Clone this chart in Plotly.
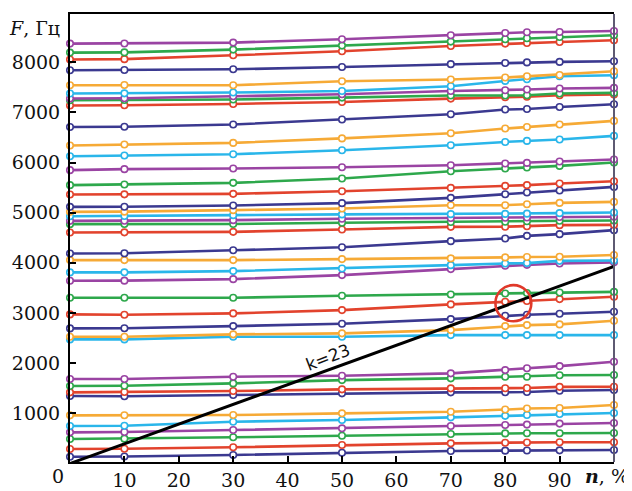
import plotly.graph_objects as go

# x positions (n, %)
n_values = [0, 10, 30, 50, 70, 80, 84, 90, 100]

# Frequencies F (Hz) per colour family, bottom to top
navy_series = [
    [135, 140, 170, 215, 248, 256, 260, 262, 268],
    [1345, 1340, 1365, 1398, 1418, 1420, 1425, 1450, 1464],
    [2693, 2695, 2739, 2785, 2878, 2945, 2965, 2985, 3024],
    [4187, 4190, 4250, 4310, 4432, 4486, 4538, 4572, 4651],
    [5116, 5118, 5143, 5190, 5295, 5368, 5402, 5442, 5514],
    [6709, 6712, 6757, 6856, 6962, 7056, 7067, 7107, 7161],
    [7839, 7845, 7858, 7904, 7960, 7984, 7995, 8005, 8018],
]
red_series = [
    [289, 295, 323, 369, 402, 415, 420, 423, 425],
    [1418, 1425, 1444, 1478, 1498, 1500, 1505, 1528, 1530],
    [2972, 2965, 2992, 3058, 3171, 3223, 3240, 3277, 3323],
    [4606, 4608, 4618, 4665, 4717, 4720, 4730, 4751, 4757],
    [5363, 5365, 5375, 5428, 5494, 5534, 5548, 5582, 5627],
    [7135, 7140, 7167, 7207, 7274, 7300, 7310, 7341, 7354],
    [8052, 8060, 8137, 8217, 8323, 8370, 8383, 8402, 8436],
]
green_series = [
    [488, 495, 522, 554, 588, 600, 602, 604, 608],
    [1544, 1550, 1597, 1663, 1697, 1729, 1730, 1760, 1763],
    [3303, 3303, 3303, 3343, 3370, 3390, 3400, 3410, 3422],
    [4771, 4775, 4775, 4800, 4815, 4820, 4830, 4840, 4845],
    [5548, 5560, 5594, 5681, 5827, 5880, 5900, 5932, 6000],
    [7241, 7245, 7255, 7294, 7334, 7334, 7340, 7374, 7387],
    [8191, 8195, 8250, 8330, 8410, 8456, 8476, 8502, 8536],
]
purple_series = [
    [621, 627, 667, 701, 747, 767, 775, 795, 807],
    [1683, 1683, 1729, 1750, 1797, 1862, 1900, 1942, 2028],
    [3642, 3645, 3675, 3755, 3875, 3941, 3960, 3988, 4010],
    [4837, 4840, 4851, 4880, 4895, 4900, 4905, 4915, 4920],
    [5847, 5867, 5880, 5905, 5946, 5980, 5992, 6020, 6060],
    [7275, 7280, 7320, 7360, 7426, 7440, 7454, 7474, 7487],
    [8370, 8372, 8390, 8456, 8536, 8582, 8596, 8602, 8622],
]
cyan_series = [
    [747, 753, 833, 867, 920, 950, 966, 986, 1006],
    [2474, 2474, 2526, 2526, 2560, 2560, 2560, 2560, 2560],
    [3809, 3810, 3835, 3888, 3954, 3988, 3995, 4040, 4047],
    [4930, 4933, 4950, 4965, 4970, 4975, 4980, 4990, 5004],
    [6126, 6139, 6165, 6245, 6344, 6410, 6430, 6458, 6530],
    [7374, 7378, 7394, 7426, 7520, 7626, 7659, 7719, 7739],
]
orange_series = [
    [960, 962, 966, 1000, 1032, 1075, 1095, 1105, 1165],
    [2526, 2526, 2574, 2594, 2659, 2739, 2759, 2773, 2845],
    [4054, 4054, 4054, 4074, 4088, 4108, 4115, 4120, 4155],
    [5016, 5020, 5050, 5083, 5149, 5149, 5169, 5195, 5215],
    [6339, 6358, 6391, 6480, 6584, 6677, 6709, 6757, 6829],
    [7540, 7545, 7540, 7620, 7653, 7693, 7719, 7745, 7819],
]

# k = 23 line
k_line_n = [0, 100]
k_line_F = [0, 3930]
k_label = "k=23"

# highlighted point (red circle)
circle_center = (81.5, 3195)

y_ticks = [1000, 2000, 3000, 4000, 5000, 6000, 7000, 8000]
x_ticks = [10, 20, 30, 40, 50, 60, 70, 80, 90]

colors = {
    "navy": "#3b3990",
    "red": "#e2432d",
    "green": "#2ea84c",
    "purple": "#9a44a3",
    "cyan": "#2ab6ea",
    "orange": "#f6aa36",
}
families = [
    ("navy", navy_series), ("red", red_series), ("green", green_series),
    ("purple", purple_series), ("cyan", cyan_series), ("orange", orange_series),
]

fig = go.Figure()

max_len = max(len(s) for _, s in families)
for i in range(max_len):
    for cname, slist in families:
        if i < len(slist):
            fig.add_trace(go.Scatter(
                x=n_values, y=slist[i], mode="lines+markers",
                line=dict(color=colors[cname], width=2.6),
                marker=dict(symbol="circle", size=6.5, color="white",
                            line=dict(color=colors[cname], width=1.6)),
                cliponaxis=False, showlegend=False, hoverinfo="skip",
            ))

fig.add_trace(go.Scatter(
    x=k_line_n, y=k_line_F, mode="lines",
    line=dict(color="black", width=3), showlegend=False, hoverinfo="skip",
))

cx, cy = circle_center
fig.add_shape(type="circle", xref="x", yref="y",
              x0=cx - 3.3, x1=cx + 3.3, y0=cy - 360, y1=cy + 360,
              line=dict(color="#e0392a", width=2.6))

# right frame edge (grey)
fig.add_shape(type="line", xref="paper", yref="paper", x0=1, x1=1, y0=0, y1=1,
              line=dict(color="#5e5a72", width=2))

serif = "DejaVu Serif"

fig.add_annotation(x=47.5, y=2120, xref="x", yref="y", text=k_label,
                   showarrow=False, textangle=-21,
                   font=dict(family="DejaVu Sans", size=17, color="#111"))

fig.add_annotation(x=0, y=1, xref="paper", yref="paper", text="<i>F</i>, Гц",
                   showarrow=False, xanchor="right", yanchor="middle",
                   xshift=-8, yshift=-14,
                   font=dict(family=serif, size=19, color="#111"))
fig.add_annotation(x=1, y=0, xref="paper", yref="paper", text="<b><i>n</i></b>, %",
                   showarrow=False, xanchor="right", yanchor="middle",
                   xshift=17, yshift=-14,
                   font=dict(family=serif, size=19, color="#111"))
fig.add_annotation(x=0, y=0, xref="paper", yref="paper", text="0",
                   showarrow=False, xanchor="center", yanchor="middle",
                   xshift=-12, yshift=-14,
                   font=dict(family=serif, size=19, color="#111"))

# page body has an 8px default margin, so the figure is sized/offset to fit
fig.update_layout(
    width=624, height=483,
    margin=dict(l=62, r=18, t=6, b=29, autoexpand=False),
    paper_bgcolor="white", plot_bgcolor="white",
    showlegend=False,
)
fig.update_xaxes(
    range=[0, 100], tickvals=x_ticks, ticktext=[str(v) for v in x_ticks],
    showgrid=False, zeroline=False, automargin=False,
    showline=True, linecolor="black", linewidth=2, mirror=True,
    ticks="inside", ticklen=6, tickwidth=2, tickcolor="black",
    ticklabelstandoff=0,
    tickfont=dict(family=serif, size=19, color="#111"),
)
fig.update_yaxes(
    range=[30, 8960], tickvals=y_ticks, ticktext=[str(v) for v in y_ticks],
    showgrid=False, zeroline=False, automargin=False,
    showline=True, linecolor="black", linewidth=2, mirror=False,
    ticks="inside", ticklen=6, tickwidth=2, tickcolor="black",
    ticklabelstandoff=4,
    tickfont=dict(family=serif, size=19, color="#111"),
)

fig.write_html("out.html")
